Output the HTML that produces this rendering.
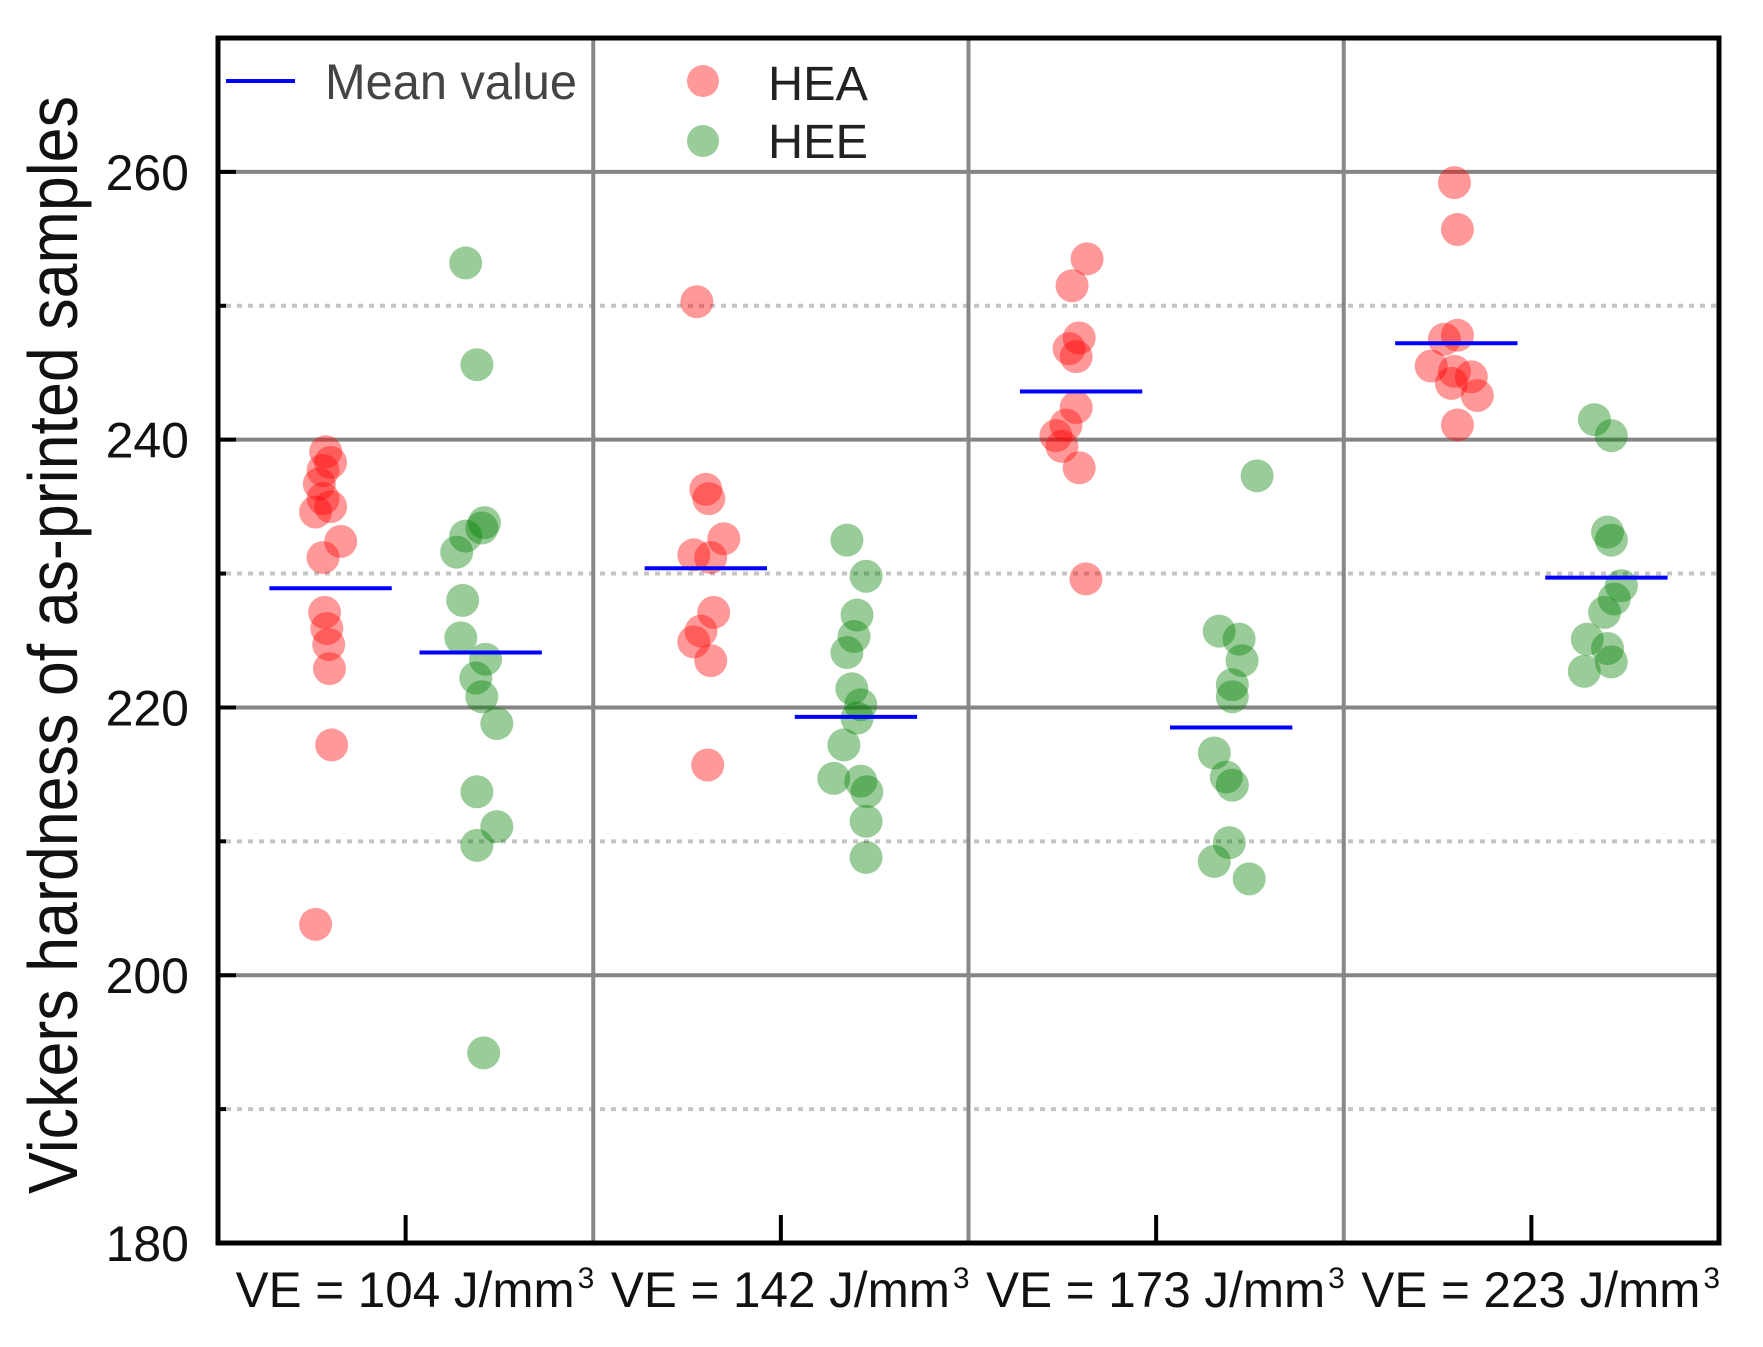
<!DOCTYPE html>
<html><head><meta charset="utf-8"><style>
html,body{margin:0;padding:0;background:#fff}
svg{display:block}
text{font-family:"Liberation Sans",sans-serif}
</style></head><body>
<svg id="chart" width="1763" height="1347" viewBox="0 0 1763 1347" xmlns="http://www.w3.org/2000/svg">
<g id="grid"></g>
<g id="marks"></g>
<g id="axes"></g>
<g id="legend">
  <line x1="226" y1="81" x2="295" y2="81" stroke="#0000ff" stroke-width="4"/>
  <text x="325" y="99" font-size="50" fill="#444" textLength="252" lengthAdjust="spacingAndGlyphs">Mean value</text>
  <circle cx="703" cy="81" r="16" fill="rgba(255,0,0,0.4)"/>
  <text x="768" y="100" font-size="48" fill="#222" textLength="100" lengthAdjust="spacingAndGlyphs">HEA</text>
  <circle cx="703" cy="141" r="16" fill="rgba(0,128,0,0.4)"/>
  <text x="768" y="158" font-size="48" fill="#222" textLength="100" lengthAdjust="spacingAndGlyphs">HEE</text>
</g>
<text transform="translate(77,645) rotate(-90)" text-anchor="middle" font-size="70" fill="#111" textLength="1098" lengthAdjust="spacingAndGlyphs">Vickers hardness of as-printed samples</text>
</svg>
<script>
const categories = ["104", "142", "173", "223"];
const yTicks = [180, 200, 220, 240, 260];
const yMinorTicks = [190, 210, 230, 250];
// HEA values and x-jitter (percent of band width)
const heaValues = [
  [239.1,238.3,237.7,236.7,235.6,235.0,234.6,232.4,231.2,227.1,225.9,224.7,222.9,217.2,203.8],
  [250.3,236.3,235.6,232.6,231.4,231.2,227.1,225.7,224.9,223.5,215.7],
  [253.5,251.5,247.6,246.8,246.2,242.4,241.1,240.3,239.5,237.9,229.6],
  [259.2,255.7,247.8,247.5,245.5,245.1,244.7,244.2,243.3,241.1]
];
const heaJitter = [
  [-1.3,0,-2,-3,-2,0,-4,2.7,-2,-1.6,-1,-0.5,-0.3,0.3,-4],
  [-2.4,0,0.8,4.8,-3.2,1.3,2.1,-1.3,-3.2,1.3,0.5],
  [1.6,-2.4,-0.5,-3.2,-1.3,-1.3,-4,-6.7,-5.1,-0.5,1.3],
  [-0.5,0.3,0.3,-3.2,-6.7,-0.5,4,-1.3,5.6,0.3]
];
const heeValues = [
  [253.2,245.6,233.8,233.4,232.8,231.6,228.0,225.2,223.6,222.2,220.8,218.8,213.7,211.1,209.7,194.2],
  [232.5,229.8,226.9,225.3,224.1,221.4,220.2,219.2,217.2,214.7,214.5,213.7,211.5,208.8],
  [237.3,225.7,225.1,223.5,221.7,220.8,216.6,214.8,214.2,209.9,208.5,207.2],
  [241.5,240.3,233.1,232.5,229.1,228.1,227.1,225.1,224.4,223.4,222.7]
];
const heeJitter = [
  [-4,-1,1,0.3,-4,-6.4,-4.8,-5.3,1.3,-1.3,0.3,4.3,-1,4.3,-1,0.8],
  [-2.4,2.7,0.3,-0.5,-2.4,-1.1,1.3,0.3,-3.2,-5.9,1.3,2.9,2.7,2.7],
  [6.9,-3.2,2.1,2.9,0.3,0.3,-4.5,-1.3,0.3,-0.5,-4.5,4.8],
  [-3.2,1.3,0.3,1.3,4,2.1,-0.5,-5.1,0.3,1.3,-5.9]
];
const heaMeans = [228.9, 230.4, 243.6, 247.2];
const heeMeans = [224.1, 219.3, 218.5, 229.7];

const NS = "http://www.w3.org/2000/svg";
const L = 218, R = 1719, T = 38, B = 1243;
const yMin = 180, yMax = 270;
const band = (R - L) / categories.length;
function y(v){ return B - (v - yMin) / (yMax - yMin) * (B - T); }
function xc(i){ return L + band * (i + 0.5); }
function mk(tag, attrs, parent){
  const e = document.createElementNS(NS, tag);
  for (const k in attrs) e.setAttribute(k, attrs[k]);
  parent.appendChild(e); return e;
}
const grid = document.getElementById("grid");
const marks = document.getElementById("marks");
const axes = document.getElementById("axes");

yMinorTicks.forEach(v => {
  const l = mk("line", {x1: L+8, x2: R, y1: y(v), y2: y(v), stroke: "#c4c4c4", "stroke-width": 4, "stroke-dasharray": "5 6"}, grid);
  
  
});
yTicks.forEach(v => {
  if (v === yMin) return;
  const l = mk("line", {x1: L, x2: R, y1: y(v), y2: y(v), stroke: "#858585", "stroke-width": 4}, grid);
  
  
});
for (let i = 1; i < categories.length; i++) {
  const l = mk("line", {x1: L + band*i, x2: L + band*i, y1: T, y2: B, stroke: "#888", "stroke-width": 4}, grid);
  
  
}

function drawSeries(vals, jit, means, off, fill, name){
  vals.forEach((arr, g) => {
    const sc = xc(g) + off * band;
    arr.forEach((v, k) => {
      const c = mk("circle", {cx: sc + jit[g][k] / 100 * band, cy: y(v), r: 16.5, fill: fill}, marks);
      
      
    });
  });
  means.forEach((m, g) => {
    const sc = xc(g) + off * band;
    const l = mk("line", {x1: sc - 0.163*band, x2: sc + 0.163*band, y1: y(m), y2: y(m), stroke: "#0000ff", "stroke-width": 4}, marks);
    
    
  });
}
drawSeries(heaValues, heaJitter, heaMeans, -0.2, "rgba(255,0,0,0.4)", "hea");
drawSeries(heeValues, heeJitter, heeMeans, 0.2, "rgba(0,128,0,0.4)", "hee");

// frame
const fr = mk("rect", {x: L, y: T, width: R-L, height: B-T, fill: "none", stroke: "#000", "stroke-width": 5}, axes);


yTicks.forEach(v => {
  const t = mk("line", {x1: L, x2: L+18, y1: y(v), y2: y(v), stroke: "#000", "stroke-width": 4}, axes);
  
  
  const tx = mk("text", {x: 189, y: y(v) + 18, "text-anchor": "end", "font-size": 50, fill: "#111"}, axes);
  tx.textContent = String(v);
  
  
});
yMinorTicks.forEach(v => {
  const t = mk("line", {x1: L, x2: L+8, y1: y(v), y2: y(v), stroke: "#000", "stroke-width": 4}, axes);
  
  
});
categories.forEach((c, i) => {
  const t = mk("line", {x1: xc(i), x2: xc(i), y1: B, y2: B-28, stroke: "#000", "stroke-width": 4}, axes);
  
  
  const x0 = xc(i) - 170;
  const tx = mk("text", {x: x0, y: 1307, "font-size": 50, fill: "#111", textLength: 339, lengthAdjust: "spacingAndGlyphs"}, axes);
  tx.textContent = "VE = " + c + " J/mm";
  
  
  const s = mk("text", {x: x0 + 342, y: 1288, "font-size": 30, fill: "#111"}, axes);
  s.textContent = "3";
  
  
});
</script>
</body></html>
